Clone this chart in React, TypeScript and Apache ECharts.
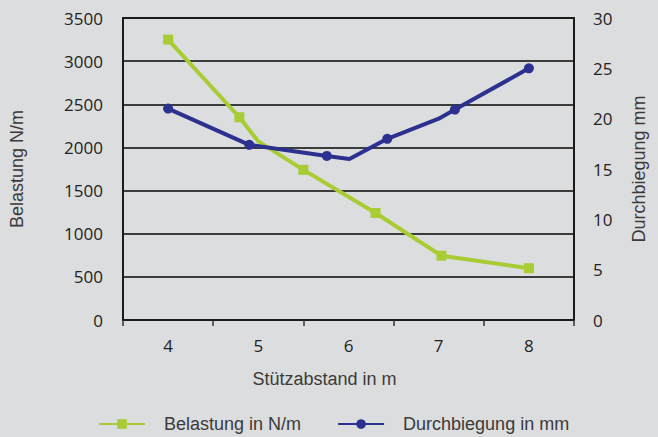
import React, { useEffect, useRef } from "react";
import * as echarts from "echarts";

// Stützabstand categories (axis labels)
const categories = ["4", "5", "6", "7", "8"];

// Belastung in N/m (left axis)
const belastungX = [4, 4.79, 5, 5.5, 6.3, 7.03, 8];
const belastungY = [3250, 2350, 2070, 1740, 1240, 745, 600];
const belastungMarker = [true, true, false, true, true, true, true];

// Durchbiegung in mm (right axis)
const durchX = [4, 4.9, 5.76, 6.01, 6.43, 7.0, 7.18, 8];
const durchY = [21, 17.4, 16.3, 16.0, 18.0, 20.0, 20.9, 25.0];
const durchMarker = [true, true, true, false, true, false, true, true];

const GREEN = "#a9cb34";
const BLUE = "#2c3190";
const BG = "#dcdddf";

function buildData(xs: number[], ys: number[], marks: boolean[]) {
  return xs.map((x, i) =>
    marks[i] ? { value: [x, ys[i]] } : { value: [x, ys[i]], symbol: "none" }
  );
}

export default function App() {
  const ref = useRef<HTMLDivElement>(null);

  useEffect(() => {
    if (!ref.current) return;
    const chart = echarts.init(ref.current, undefined, { renderer: "svg" });
    const tickFont = { fontFamily: "Open Sans", fontSize: 17, color: "#222" };
    const nameFont = { fontFamily: "Liberation Sans", fontSize: 18, color: "#3a3a3a" };
    const plain = (v: number) => String(v);
    chart.setOption({
      animation: false,
      backgroundColor: BG,
      grid: { left: 123, top: 18, right: 84, bottom: 117, containLabel: false },
      legend: {
        left: 98,
        top: 415,
        padding: 0,
        itemWidth: 46,
        itemHeight: 12,
        itemGap: 36,
        textStyle: { ...nameFont, padding: [0, 0, 0, 14] },
        data: ["Belastung in N/m", "Durchbiegung in mm"],
      },
      xAxis: [
        {
          type: "category",
          data: categories,
          position: "bottom",
          boundaryGap: true,
          axisLine: { show: true, lineStyle: { color: "#1a1a1a", width: 2 } },
          axisTick: { show: true, length: 6, lineStyle: { color: "#333", width: 1.5 } },
          axisLabel: { ...tickFont, margin: 17 },
          splitLine: { show: false },
          name: "Stützabstand in m",
          nameLocation: "middle",
          nameGap: 50,
          nameTextStyle: { ...nameFont, padding: [0, 48, 0, 0] },
        },
        {
          type: "value",
          min: 3.5,
          max: 8.5,
          position: "top",
          axisLine: { show: true, onZero: false, lineStyle: { color: "#1a1a1a", width: 2 } },
          axisTick: { show: false },
          axisLabel: { show: false },
          splitLine: { show: false },
        },
      ],
      yAxis: [
        {
          type: "value",
          min: 0,
          max: 3500,
          interval: 500,
          position: "left",
          axisLine: { show: true, lineStyle: { color: "#1a1a1a", width: 2 } },
          axisTick: { show: false },
          axisLabel: { ...tickFont, margin: 20, formatter: plain },
          splitLine: { show: true, lineStyle: { color: "#3c3c3c", width: 2 } },
          name: "Belastung N/m",
          nameLocation: "middle",
          nameRotate: 90,
          nameGap: 97,
          nameTextStyle: nameFont,
        },
        {
          type: "value",
          min: 0,
          max: 30,
          interval: 5,
          position: "right",
          axisLine: { show: true, lineStyle: { color: "#1a1a1a", width: 2 } },
          axisTick: { show: false },
          axisLabel: { ...tickFont, margin: 19, formatter: plain },
          splitLine: { show: false },
          name: "Durchbiegung mm",
          nameLocation: "middle",
          nameRotate: 90,
          nameGap: 56,
          nameTextStyle: nameFont,
        },
      ],
      series: [
        {
          name: "Belastung in N/m",
          type: "line",
          xAxisIndex: 1,
          yAxisIndex: 0,
          data: buildData(belastungX, belastungY, belastungMarker),
          symbol: "rect",
          symbolSize: 10,
          showAllSymbol: true,
          lineStyle: { color: GREEN, width: 4 },
          itemStyle: { color: GREEN },
          z: 3,
        },
        {
          name: "Durchbiegung in mm",
          type: "line",
          xAxisIndex: 1,
          yAxisIndex: 1,
          data: buildData(durchX, durchY, durchMarker),
          symbol: "circle",
          symbolSize: 10,
          showAllSymbol: true,
          lineStyle: { color: BLUE, width: 4 },
          itemStyle: { color: BLUE },
          z: 4,
        },
      ],
    });
    return () => chart.dispose();
  }, []);

  return (
    <div
      ref={ref}
      style={{ position: "fixed", left: 0, top: 0, width: 658, height: 437, background: BG }}
    />
  );
}
